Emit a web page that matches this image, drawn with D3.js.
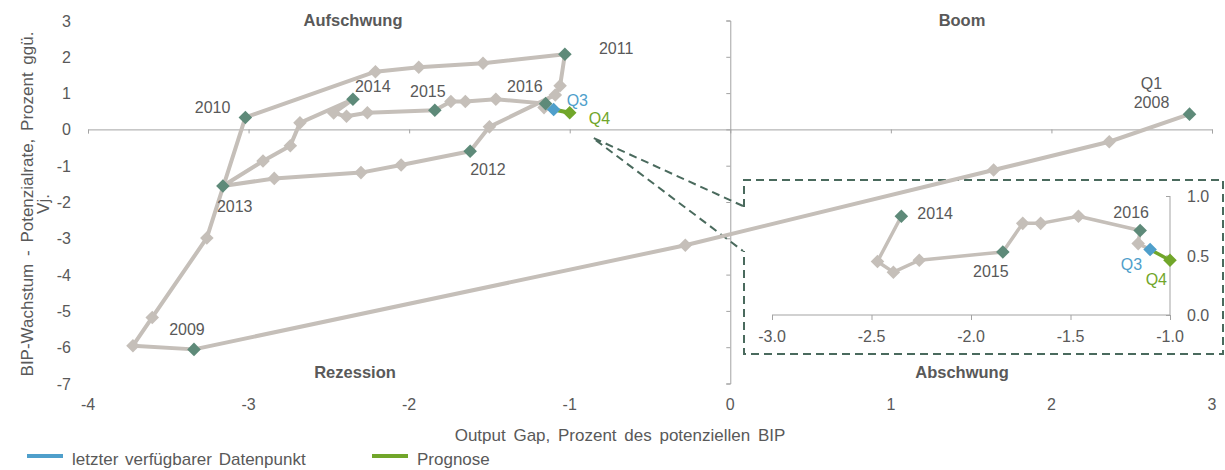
<!DOCTYPE html>
<html>
<head>
<meta charset="utf-8">
<script src="https://cdnjs.cloudflare.com/ajax/libs/d3/7.8.5/d3.min.js"></script>
<style>
  body { margin: 0; background: #fff; }
  svg text { font-family: "Liberation Sans", Arial, sans-serif; fill: #595959; }
</style>
</head>
<body>
<svg id="chart" width="1225" height="470"></svg>
<script>
// quarters 2008Q1 .. 2016Q4
var periods = [];
[2008, 2009, 2010, 2011, 2012, 2013, 2014, 2015, 2016].forEach(function(y){
  ["Q1", "Q2", "Q3", "Q4"].forEach(function(q){ periods.push(y + q); });
});

var outputGap = [
  2.86, 2.36, 1.64, -0.28,
  -3.34, -3.72, -3.60, -3.26,
  -3.02, -2.21, -1.94, -1.54,
  -1.03, -1.06, -1.09, -1.50,
  -1.62, -2.05, -2.30, -2.84,
  -3.16, -2.91, -2.74, -2.68,
  -2.35, -2.47, -2.39, -2.26,
  -1.84, -1.74, -1.65, -1.46,
  -1.15, -1.16, -1.10, -1.00
];
var growthGap = [
  0.42, -0.34, -1.12, -3.19,
  -6.06, -5.96, -5.18, -2.99,
  0.33, 1.59, 1.71, 1.82,
  2.07, 1.20, 0.95, 0.07,
  -0.60, -0.98, -1.19, -1.35,
  -1.56, -0.87, -0.45, 0.18,
  0.83, 0.45, 0.36, 0.46,
  0.53, 0.77, 0.77, 0.83,
  0.71, 0.60, 0.55, 0.46
];

var xTicks = [-4, -3, -2, -1, 0, 1, 2, 3];
var yTicks = [3, 2, 1, 0, -1, -2, -3, -4, -5, -6, -7];
var insetXTicks = [-3.0, -2.5, -2.0, -1.5, -1.0];
var insetYTicks = [0.0, 0.5, 1.0];

var lastActual = "2016Q3";
var forecast = "2016Q4";
var insetStart = "2014Q1";

var mainLabels = [
  {p: "2008Q1", t: ["Q1", "2008"]},
  {p: "2009Q1", t: ["2009"]},
  {p: "2010Q1", t: ["2010"]},
  {p: "2011Q1", t: ["2011"]},
  {p: "2012Q1", t: ["2012"]},
  {p: "2013Q1", t: ["2013"]},
  {p: "2014Q1", t: ["2014"]},
  {p: "2015Q1", t: ["2015"]},
  {p: "2016Q1", t: ["2016"]},
  {p: "2016Q3", t: ["Q3"]},
  {p: "2016Q4", t: ["Q4"]}
];
var insetLabels = [
  {p: "2014Q1", t: ["2014"]},
  {p: "2015Q1", t: ["2015"]},
  {p: "2016Q1", t: ["2016"]},
  {p: "2016Q3", t: ["Q3"]},
  {p: "2016Q4", t: ["Q4"]}
];

var quadrants = ["Aufschwung", "Boom", "Rezession", "Abschwung"];

var GRAY = "#c5bfb9", DARK = "#5e8a79", BLUE = "#4f9fcb", GREEN = "#71a62a", AXIS = "#a3a3a3";

var data = periods.map(function(p, i){
  return {p: p, x: outputGap[i], y: growthGap[i]};
});
function byP(p){ return data.filter(function(d){ return d.p == p; })[0]; }
function markerColor(d){
  if(d.p == lastActual) return BLUE;
  if(d.p == forecast) return GREEN;
  if(d.p.slice(4) == "Q1") return DARK;
  return GRAY;
}

var svg = d3.select("#chart");

// main scales
var x = d3.scaleLinear().domain([-4, 3]).range([88, 1212]);
var y = d3.scaleLinear().domain([-7, 3]).range([383.5, 20.5]);

// x axis along y = 0
var xAxis = svg.append("g").attr("transform", "translate(0," + y(0) + ")")
  .call(d3.axisBottom(x).tickValues(xTicks).tickSize(4).tickFormat(""));
xAxis.selectAll("path, line").attr("stroke", AXIS);
svg.append("g").selectAll("text").data(xTicks).enter().append("text")
  .attr("x", function(d){ return x(d); }).attr("y", 410)
  .attr("text-anchor", "middle").attr("font-size", 16)
  .text(function(d){ return d; });

// y axis along x = 0
var yAxis = svg.append("g").attr("transform", "translate(" + x(0) + ",0)")
  .call(d3.axisLeft(y).tickValues(yTicks).tickSize(4).tickFormat(""));
yAxis.selectAll("path, line").attr("stroke", AXIS);
svg.append("g").selectAll("text").data(yTicks).enter().append("text")
  .attr("x", 71).attr("y", function(d){ return y(d) + 6; })
  .attr("text-anchor", "end").attr("font-size", 16)
  .text(function(d){ return d; });

// axis titles
svg.append("text").attr("x", 620).attr("y", 441).attr("text-anchor", "middle")
  .attr("font-size", 17).attr("word-spacing", 3)
  .text("Output Gap, Prozent des potenziellen BIP");
var yt = svg.append("text").attr("transform", "translate(33,204) rotate(-90)")
  .attr("text-anchor", "middle").attr("font-size", 17).attr("word-spacing", 3);
yt.append("tspan").attr("x", 0).attr("y", 0).text("BIP-Wachstum - Potenzialrate, Prozent ggü.");
yt.append("tspan").attr("x", 0).attr("y", 16).text("Vj.");

// quadrant labels
var qpos = [[353, 26], [962, 26], [355, 378], [962, 378]];
svg.append("g").selectAll("text").data(quadrants).enter().append("text")
  .attr("x", function(d, i){ return qpos[i][0]; })
  .attr("y", function(d, i){ return qpos[i][1]; })
  .attr("text-anchor", "middle").attr("font-size", 16.5).attr("font-weight", "bold")
  .text(function(d){ return d; });

// zoom callout
var inX = d3.scaleLinear().domain([-3, -1]).range([772, 1170]);
var inY = d3.scaleLinear().domain([0, 1]).range([315, 196]);
var box = {l: 744, t: 180, r: 1223, b: 354, gapTop: 207, gapBot: 251};
var cs = [x(-0.85), y(-0.24)];
svg.append("path")
  .attr("d", "M" + box.l + "," + box.gapTop + "V" + box.t + "H" + box.r + "V" + box.b + "H" + box.l + "V" + box.gapBot)
  .attr("fill", "none").attr("stroke", "#4a6a5d").attr("stroke-width", 2).attr("stroke-dasharray", "8,5");
svg.append("path")
  .attr("d", "M" + cs[0] + "," + cs[1] + "L" + (box.l - 1) + "," + (box.gapTop - 1) +
             "M" + (cs[0] + 2) + "," + (cs[1] + 2) + "L" + (box.l - 1) + "," + box.gapBot)
  .attr("fill", "none").attr("stroke", "#4a6a5d").attr("stroke-width", 2).attr("stroke-dasharray", "8,5");

// main series
var line = d3.line().x(function(d){ return x(d.x); }).y(function(d){ return y(d.y); });
var actual = data.filter(function(d){ return d.p != forecast; });
svg.append("path").datum(actual).attr("d", line)
  .attr("fill", "none").attr("stroke", GRAY).attr("stroke-width", 4).attr("stroke-linejoin", "round");
svg.append("path").datum([byP(lastActual), byP(forecast)]).attr("d", line)
  .attr("fill", "none").attr("stroke", GREEN).attr("stroke-width", 4);

var diamond = d3.symbol().type(d3.symbolSquare).size(92);
function drawMarkers(g, pts, sx, sy){
  g.selectAll("path.m").data(pts).enter().append("path").attr("class", "m")
    .attr("d", diamond)
    .attr("transform", function(d){ return "translate(" + sx(d.x) + "," + sy(d.y) + ") rotate(45)"; })
    .attr("fill", markerColor);
}
drawMarkers(svg.append("g"), data.filter(function(d){ return markerColor(d) == GRAY; }), x, y);
drawMarkers(svg.append("g"), data.filter(function(d){ return markerColor(d) != GRAY; }), x, y);

// label placement: [anchor, dx, dy]
var mainOff = {
  "2008Q1": ["middle", -38, -25], "2009Q1": ["middle", -7, -14], "2010Q1": ["end", -15, -4],
  "2011Q1": ["start", 34, 0], "2012Q1": ["start", 0, 24], "2013Q1": ["start", -6, 26],
  "2014Q1": ["start", 2, -7], "2015Q1": ["middle", -7, -13], "2016Q1": ["end", -3, -12],
  "2016Q3": ["start", 13, -3], "2016Q4": ["start", 19, 11]
};
var insetOff = {
  "2014Q1": ["start", 16, 3], "2015Q1": ["middle", -12, 25], "2016Q1": ["middle", -9, -13],
  "2016Q3": ["end", -8, 20], "2016Q4": ["end", -3, 25]
};
function drawLabels(list, off, sx, sy){
  list.forEach(function(l){
    var d = byP(l.p), o = off[l.p];
    var col = l.p == lastActual ? BLUE : (l.p == forecast ? GREEN : "#595959");
    l.t.forEach(function(t, k){
      svg.append("text").attr("x", sx(d.x) + o[1]).attr("y", sy(d.y) + o[2] + k * 19)
        .attr("text-anchor", o[0]).attr("font-size", 16).style("fill", col).text(t);
    });
  });
}
drawLabels(mainLabels, mainOff, x, y);

// inset axes
var ix = svg.append("g").attr("transform", "translate(0," + inY(0) + ")")
  .call(d3.axisBottom(inX).tickValues(insetXTicks).tickSize(5).tickFormat(""));
ix.selectAll("path, line").attr("stroke", AXIS);
ix.select("path").attr("d", "M" + inX(-3) + ",0H" + inX(-1));
svg.append("g").selectAll("text").data(insetXTicks).enter().append("text")
  .attr("x", function(d){ return inX(d); }).attr("y", 342)
  .attr("text-anchor", "middle").attr("font-size", 16)
  .text(function(d){ return d3.format(".1f")(d).replace("\u2212", "-"); });
var iy = svg.append("g").attr("transform", "translate(" + inX(-1) + ",0)")
  .call(d3.axisLeft(inY).tickValues(insetYTicks).tickSize(4).tickFormat(""));
iy.selectAll("path, line").attr("stroke", AXIS);
iy.select("path").attr("d", "M0," + inY(1) + "V" + inY(0));
svg.append("g").selectAll("text").data(insetYTicks).enter().append("text")
  .attr("x", inX(-1) + 17).attr("y", function(d){ return inY(d) + 6; })
  .attr("font-size", 16)
  .text(function(d){ return d3.format(".1f")(d); });

// inset series
var startIdx = periods.indexOf(insetStart);
var inData = data.slice(startIdx);
var inLine = d3.line().x(function(d){ return inX(d.x); }).y(function(d){ return inY(d.y); });
svg.append("path").datum(inData.filter(function(d){ return d.p != forecast; })).attr("d", inLine)
  .attr("fill", "none").attr("stroke", GRAY).attr("stroke-width", 3.5).attr("stroke-linejoin", "round");
svg.append("path").datum([byP(lastActual), byP(forecast)]).attr("d", inLine)
  .attr("fill", "none").attr("stroke", GREEN).attr("stroke-width", 3.5);
drawMarkers(svg.append("g"), inData.filter(function(d){ return markerColor(d) == GRAY; }), inX, inY);
drawMarkers(svg.append("g"), inData.filter(function(d){ return markerColor(d) != GRAY; }), inX, inY);
drawLabels(insetLabels, insetOff, inX, inY);

// legend
var legend = [["letzter verfügbarer Datenpunkt", BLUE, 27], ["Prognose", GREEN, 372]];
legend.forEach(function(l){
  svg.append("line").attr("x1", l[2]).attr("x2", l[2] + 36).attr("y1", 456).attr("y2", 456)
    .attr("stroke", l[1]).attr("stroke-width", 4);
  svg.append("text").attr("x", l[2] + 45).attr("y", 465).attr("font-size", 17)
    .attr("word-spacing", 2).text(l[0]);
});
</script>
</body>
</html>
